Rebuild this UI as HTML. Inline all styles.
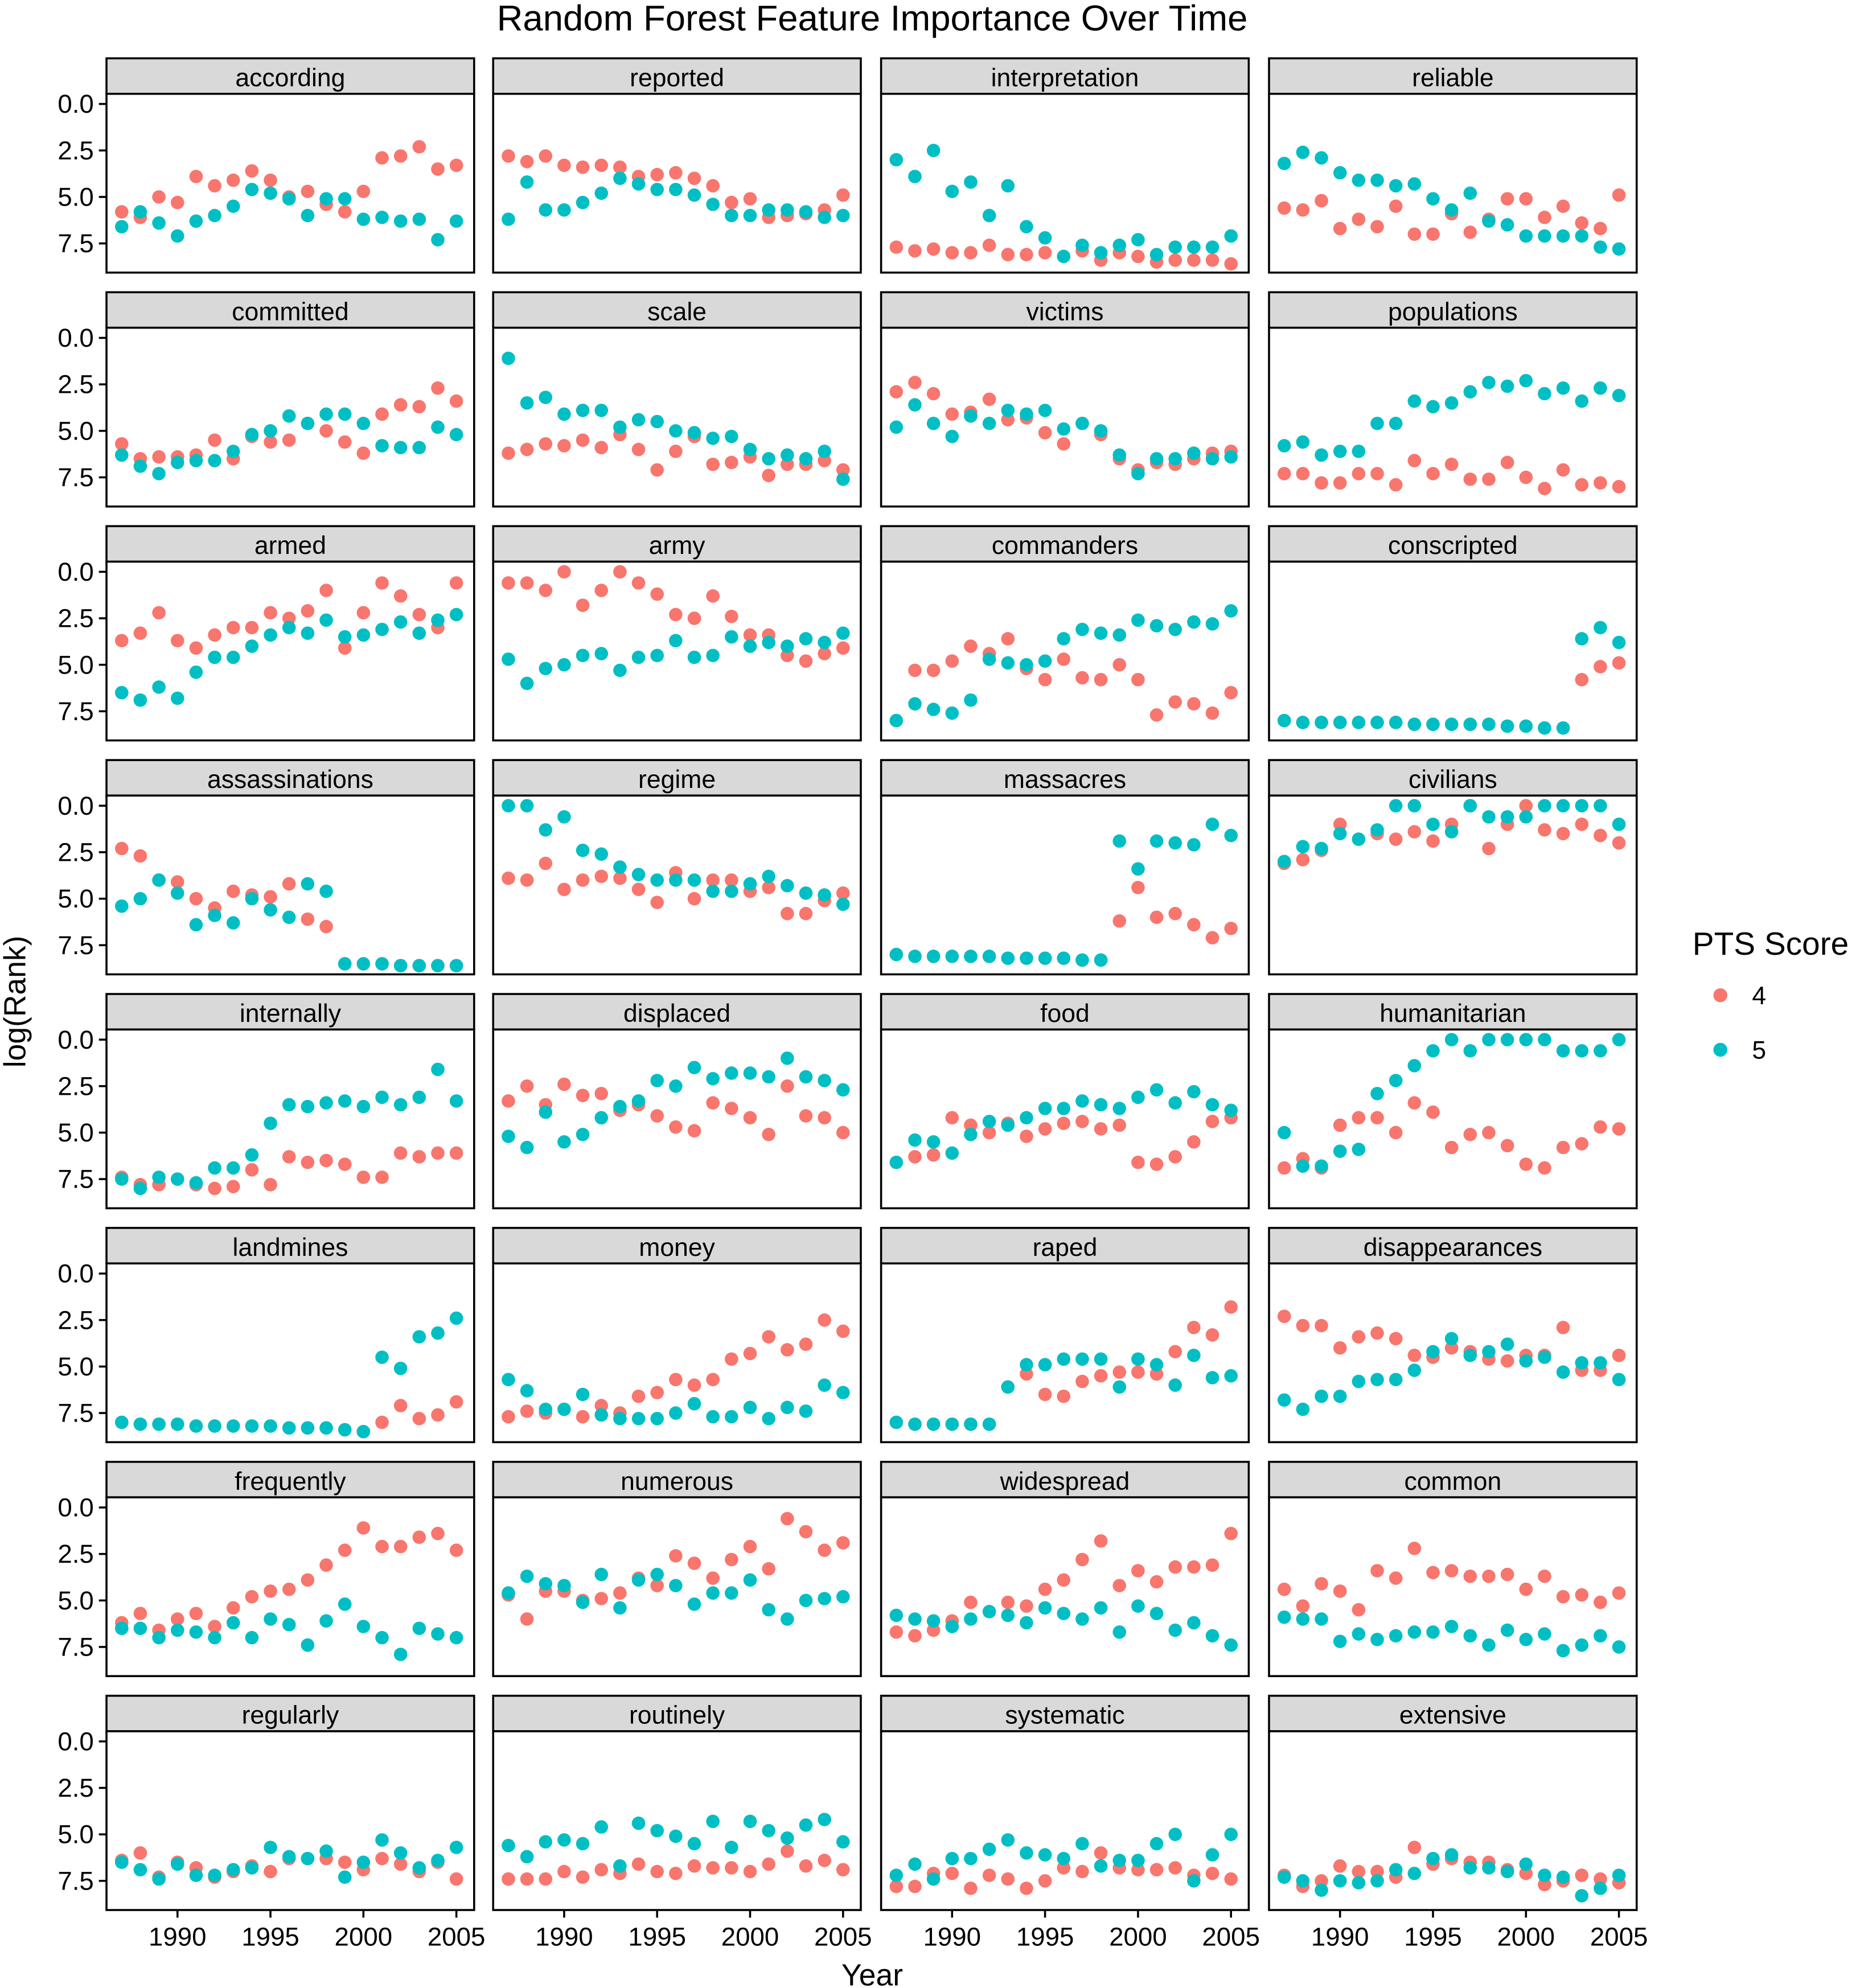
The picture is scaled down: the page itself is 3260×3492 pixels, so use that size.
<!DOCTYPE html>
<html><head><meta charset="utf-8"><style>
html,body{margin:0;padding:0;background:#fff}
svg{display:block;font-family:"Liberation Sans",Arial,sans-serif}
</style></head><body>
<svg id="chart" width="3260" height="3492" viewBox="0 0 1464 1568" preserveAspectRatio="none" xmlns="http://www.w3.org/2000/svg">
<text x="688" y="24" font-size="28.5" text-anchor="middle">Random Forest Feature Importance Over Time</text>
<text transform="translate(20,790) rotate(-90)" font-size="24" text-anchor="middle">log(Rank)</text>
<text x="688" y="1566" font-size="24" text-anchor="middle">Year</text>
<g>
<text x="1335" y="753" font-size="25.5">PTS Score</text>
<circle cx="1357" cy="785" r="5.5" fill="#F8766D"/>
<text x="1382" y="792" font-size="20">4</text>
<circle cx="1357" cy="828" r="5.5" fill="#00BFC4"/>
<text x="1382" y="835" font-size="20">5</text>
</g>
<g id="panels"></g>
</svg>
<script>
const years=[1987,1988,1989,1990,1991,1992,1993,1994,1995,1996,1997,1998,1999,2000,2001,2002,2003,2004,2005];
const terms=["according","reported","interpretation","reliable","committed","scale","victims","populations","armed","army","commanders","conscripted","assassinations","regime","massacres","civilians","internally","displaced","food","humanitarian","landmines","money","raped","disappearances","frequently","numerous","widespread","common","regularly","routinely","systematic","extensive"];
const yTicks=[0,2.5,5,7.5];
const yTickLabels=["0.0","2.5","5.0","7.5"];
const xTicks=[1990,1995,2000,2005];
const red=[
[5.8,6.1,5.0,5.3,3.9,4.4,4.1,3.6,4.1,5.0,4.7,5.4,5.8,4.7,2.9,2.8,2.3,3.5,3.3],
[2.8,3.1,2.8,3.3,3.4,3.3,3.4,3.9,3.8,3.7,4.0,4.4,5.3,5.1,6.1,6.0,5.9,5.7,4.9],
[7.7,7.9,7.8,8.0,8.0,7.6,8.1,8.1,8.0,8.2,7.9,8.4,8.0,8.2,8.5,8.4,8.4,8.4,8.6],
[5.6,5.7,5.2,6.7,6.2,6.6,5.5,7.0,7.0,5.9,6.9,6.2,5.1,5.1,6.1,5.5,6.4,6.7,4.9],
[5.7,6.5,6.4,6.4,6.3,5.5,6.5,5.3,5.6,5.5,4.6,5.0,5.6,6.2,4.1,3.6,3.7,2.7,3.4],
[6.2,6.0,5.7,5.8,5.5,5.9,5.2,6.0,7.1,6.1,5.3,6.8,6.7,6.4,7.4,6.8,6.8,6.6,7.1],
[2.9,2.4,3.0,4.1,4.0,3.3,4.4,4.3,5.1,5.7,4.6,5.2,6.5,7.1,6.7,6.8,6.5,6.2,6.1],
[7.3,7.3,7.8,7.8,7.3,7.3,7.9,6.6,7.3,6.8,7.6,7.6,6.7,7.5,8.1,7.1,7.9,7.8,8.0],
[3.7,3.3,2.2,3.7,4.1,3.4,3.0,3.0,2.2,2.5,2.1,1.0,4.1,2.2,0.6,1.3,2.3,3.0,0.6],
[0.6,0.6,1.0,0.0,1.8,1.0,0.0,0.6,1.2,2.3,2.5,1.3,2.4,3.4,3.4,4.5,4.8,4.4,4.1],
[8.0,5.3,5.3,4.8,4.0,4.4,3.6,5.2,5.8,4.7,5.7,5.8,5.0,5.8,7.7,7.0,7.1,7.6,6.5],
[8.0,8.1,8.1,8.1,8.1,8.1,8.1,8.2,8.2,8.2,8.2,8.2,8.3,8.3,8.4,8.4,5.8,5.1,4.9],
[2.3,2.7,4.0,4.1,5.0,5.5,4.6,4.8,4.9,4.2,6.1,6.5,8.5,8.5,8.5,8.6,8.6,8.6,8.6],
[3.9,4.0,3.1,4.5,4.0,3.8,3.9,4.5,5.2,3.6,5.0,4.0,4.0,4.6,4.4,5.8,5.8,5.1,4.7],
[8.0,8.1,8.1,8.1,8.1,8.1,8.2,8.2,8.2,8.2,8.3,8.3,6.2,4.4,6.0,5.8,6.4,7.1,6.6],
[3.1,2.9,2.4,1.0,1.8,1.5,1.8,1.4,1.9,1.0,0.0,2.3,1.0,0.0,1.3,1.5,1.0,1.6,2.0],
[7.4,7.8,7.8,7.5,7.8,8.0,7.9,7.0,7.8,6.3,6.6,6.5,6.7,7.4,7.4,6.1,6.3,6.1,6.1],
[3.3,2.5,3.5,2.4,3.0,2.9,3.8,3.5,4.1,4.7,4.9,3.4,3.7,4.2,5.1,2.5,4.1,4.2,5.0],
[6.6,6.3,6.2,4.2,4.6,5.0,4.5,5.2,4.8,4.5,4.4,4.8,4.6,6.6,6.7,6.3,5.5,4.4,4.2],
[6.9,6.4,6.9,4.6,4.2,4.2,5.0,3.4,3.9,5.8,5.1,5.0,5.7,6.7,6.9,5.8,5.6,4.7,4.8],
[8.0,8.1,8.1,8.1,8.2,8.2,8.2,8.2,8.2,8.3,8.3,8.3,8.4,8.5,8.0,7.1,7.8,7.6,6.9],
[7.7,7.4,7.5,7.3,7.7,7.1,7.5,6.6,6.4,5.7,6.0,5.7,4.6,4.3,3.4,4.1,3.8,2.5,3.1],
[8.0,8.1,8.1,8.1,8.1,8.1,6.1,5.4,6.5,6.6,5.8,5.5,5.3,5.3,5.4,4.2,2.9,3.3,1.8],
[2.3,2.8,2.8,4.0,3.4,3.2,3.5,4.4,4.5,4.0,4.2,4.6,4.7,4.4,4.4,2.9,5.2,5.2,4.4],
[6.2,5.7,6.6,6.0,5.7,6.4,5.4,4.8,4.5,4.4,3.9,3.1,2.3,1.1,2.1,2.1,1.6,1.4,2.3],
[4.7,6.0,4.5,4.5,5.0,4.9,4.6,3.8,4.2,2.6,3.0,3.8,2.8,2.1,3.3,0.6,1.3,2.3,1.9],
[6.7,6.9,6.6,6.1,5.1,5.6,5.1,5.3,4.4,3.9,2.8,1.8,4.2,3.4,4.0,3.2,3.2,3.1,1.4],
[4.4,5.3,4.1,4.5,5.5,3.4,3.8,2.2,3.5,3.4,3.7,3.7,3.6,4.4,3.7,4.8,4.7,5.1,4.6],
[6.4,6.0,7.3,6.5,6.8,7.3,7.0,6.7,7.0,6.3,6.3,6.3,6.5,6.9,6.3,6.6,7.0,6.5,7.4],
[7.4,7.4,7.4,7.0,7.3,6.9,7.1,6.6,7.0,7.1,6.7,6.8,6.8,7.0,6.6,5.9,6.7,6.4,6.9],
[7.8,7.8,7.1,7.1,7.9,7.2,7.4,7.9,7.5,6.8,7.0,6.0,6.8,6.9,6.9,6.8,7.2,7.1,7.4],
[7.2,7.8,7.5,6.7,7.0,7.0,7.3,5.7,6.6,6.3,6.5,6.5,6.9,7.1,7.7,7.5,7.2,7.4,7.6]
];
const teal=[
[6.6,5.8,6.4,7.1,6.3,6.0,5.5,4.6,4.8,5.1,6.0,5.1,5.1,6.2,6.1,6.3,6.2,7.3,6.3],
[6.2,4.2,5.7,5.7,5.3,4.8,4.0,4.3,4.6,4.6,4.9,5.4,6.0,6.0,5.7,5.7,5.8,6.1,6.0],
[3.0,3.9,2.5,4.7,4.2,6.0,4.4,6.6,7.2,8.2,7.6,8.0,7.6,7.3,8.1,7.7,7.7,7.7,7.1],
[3.2,2.6,2.9,3.7,4.1,4.1,4.4,4.3,5.1,5.7,4.8,6.3,6.5,7.1,7.1,7.1,7.1,7.7,7.8],
[6.3,6.9,7.3,6.7,6.6,6.6,6.1,5.2,5.0,4.2,4.6,4.1,4.1,4.6,5.8,5.9,5.9,4.8,5.2],
[1.1,3.5,3.2,4.1,3.9,3.9,4.8,4.4,4.5,5.0,5.1,5.4,5.3,6.0,6.5,6.3,6.5,6.1,7.6],
[4.8,3.6,4.6,5.3,4.2,4.6,3.9,4.1,3.9,4.9,4.6,5.0,6.3,7.3,6.5,6.5,6.2,6.5,6.4],
[5.8,5.6,6.3,6.1,6.1,4.6,4.6,3.4,3.7,3.5,2.9,2.4,2.6,2.3,3.0,2.7,3.4,2.7,3.1],
[6.5,6.9,6.2,6.8,5.4,4.6,4.6,4.0,3.4,3.0,3.3,2.6,3.5,3.4,3.1,2.7,3.3,2.6,2.3],
[4.7,6.0,5.2,5.0,4.5,4.4,5.3,4.6,4.5,3.7,4.6,4.5,3.5,4.0,3.8,4.0,3.6,3.8,3.3],
[8.0,7.1,7.4,7.6,6.9,4.7,4.9,5.0,4.8,3.6,3.1,3.3,3.4,2.6,2.9,3.1,2.7,2.8,2.1],
[8.0,8.1,8.1,8.1,8.1,8.1,8.1,8.2,8.2,8.2,8.2,8.2,8.3,8.3,8.4,8.4,3.6,3.0,3.8],
[5.4,5.0,4.0,4.7,6.4,5.9,6.3,5.0,5.6,6.0,4.2,4.6,8.5,8.5,8.5,8.6,8.6,8.6,8.6],
[0.0,0.0,1.3,0.6,2.4,2.6,3.3,3.7,4.0,4.0,4.0,4.6,4.6,4.2,3.8,4.3,4.7,4.8,5.3],
[8.0,8.1,8.1,8.1,8.1,8.1,8.2,8.2,8.2,8.2,8.3,8.3,1.9,3.4,1.9,2.0,2.1,1.0,1.6],
[3.0,2.2,2.3,1.5,1.8,1.3,0.0,0.0,1.0,1.4,0.0,0.6,0.6,0.6,0.0,0.0,0.0,0.0,1.0],
[7.5,8.0,7.4,7.5,7.7,6.9,6.9,6.2,4.5,3.5,3.6,3.4,3.3,3.6,3.1,3.5,3.1,1.6,3.3],
[5.2,5.8,3.9,5.5,5.1,4.2,3.6,3.3,2.2,2.5,1.5,2.1,1.8,1.8,2.0,1.0,2.0,2.2,2.7],
[6.6,5.4,5.5,6.1,5.1,4.4,4.6,4.2,3.7,3.7,3.3,3.5,3.7,3.1,2.7,3.4,2.8,3.5,3.8],
[5.0,6.8,6.8,6.0,5.9,2.9,2.2,1.4,0.6,0.0,0.6,0.0,0.0,0.0,0.0,0.6,0.6,0.6,0.0],
[8.0,8.1,8.1,8.1,8.2,8.2,8.2,8.2,8.2,8.3,8.3,8.3,8.4,8.5,4.5,5.1,3.4,3.2,2.4],
[5.7,6.3,7.3,7.3,6.5,7.6,7.8,7.8,7.8,7.5,7.0,7.7,7.7,7.2,7.8,7.2,7.4,6.0,6.4],
[8.0,8.1,8.1,8.1,8.1,8.1,6.1,4.9,4.9,4.6,4.6,4.6,6.1,4.6,4.9,6.0,4.4,5.6,5.5],
[6.8,7.3,6.6,6.6,5.8,5.7,5.7,5.2,4.2,3.5,4.4,4.2,3.8,4.7,4.5,5.3,4.8,4.8,5.7],
[6.5,6.5,7.0,6.6,6.7,7.0,6.2,7.0,6.0,6.3,7.4,6.1,5.2,6.4,7.0,7.9,6.5,6.8,7.0],
[4.6,3.7,4.1,4.2,5.1,3.6,5.4,3.9,3.6,4.2,5.2,4.6,4.6,3.9,5.5,6.0,5.0,4.9,4.8],
[5.8,6.0,6.1,6.4,6.0,5.6,5.8,6.2,5.4,5.7,6.0,5.4,6.7,5.3,5.7,6.6,6.2,6.9,7.4],
[5.9,6.0,6.0,7.2,6.8,7.1,6.9,6.7,6.7,6.4,6.9,7.4,6.6,7.1,6.8,7.7,7.4,6.9,7.5],
[6.5,6.9,7.4,6.6,7.2,7.2,6.9,6.8,5.7,6.2,6.3,5.9,7.3,6.5,5.3,6.0,6.8,6.4,5.7],
[5.6,6.2,5.4,5.3,5.5,4.6,6.7,4.4,4.8,5.1,5.5,4.3,5.7,4.3,4.8,5.2,4.5,4.2,5.4],
[7.2,6.6,7.4,6.3,6.3,5.8,5.3,6.0,6.1,6.3,5.5,6.7,6.4,6.4,5.5,5.0,7.5,6.1,5.0],
[7.3,7.5,8.0,7.5,7.6,7.5,6.9,7.1,6.3,6.1,6.8,6.8,7.0,6.6,7.2,7.3,8.3,7.9,7.2]
];
const NS="http://www.w3.org/2000/svg";
const root=document.getElementById('panels');
const colX=[84,389,695,1001], panelW=290, rowStep=184.5, stripTop0=46, stripH=28, plotH=141;
function mk(tag,attrs,parent){const e=document.createElementNS(NS,tag);for(const k in attrs)e.setAttribute(k,attrs[k]);parent.appendChild(e);return e;}
terms.forEach((term,i)=>{
  const col=i%4,row=Math.floor(i/4);
  const x0=colX[col], st=stripTop0+row*rowStep, py=st+stripH;
  const xs=v=>x0+12+(v-1987)*(264/18);
  const ys=v=>py+8+v*(110/7.5);
  const g=mk('g',{},root);
  
  
  const s=mk('rect',{x:x0,y:st,width:panelW,height:stripH,fill:'#d9d9d9',stroke:'#000','stroke-width':1.6},g);
  
  
  const t=mk('text',{x:x0+panelW/2,y:st+22,'font-size':20,'text-anchor':'middle'},g);
  t.textContent=term;
  
  
  const b=mk('rect',{x:x0,y:py,width:panelW,height:plotH,fill:'#fff',stroke:'#000','stroke-width':1.6},g);
  
  
  [[red[i],'#F8766D','4'],[teal[i],'#00BFC4','5']].forEach(([arr,c,lab])=>{
    arr.forEach((v,j)=>{
      if(v==null)return;
      const p=mk('circle',{cx:xs(years[j]),cy:ys(v),r:5.3,fill:c},g);
      
      
    });
  });
  if(col===0){
    yTicks.forEach((v,k)=>{
      mk('line',{x1:x0-6,x2:x0,y1:ys(v),y2:ys(v),stroke:'#000','stroke-width':1.6},g);
      const l=mk('text',{x:x0-10,y:ys(v)+7,'font-size':20.5,'text-anchor':'end'},g);
      l.textContent=yTickLabels[k];
      
      
    });
  }
  if(row===7){
    xTicks.forEach(v=>{
      mk('line',{x1:xs(v),x2:xs(v),y1:py+plotH,y2:py+plotH+6,stroke:'#000','stroke-width':1.6},g);
      const l=mk('text',{x:xs(v),y:py+plotH+28,'font-size':20.5,'text-anchor':'middle'},g);
      l.textContent=v;
      
      
    });
  }
});
</script>
</body></html>
